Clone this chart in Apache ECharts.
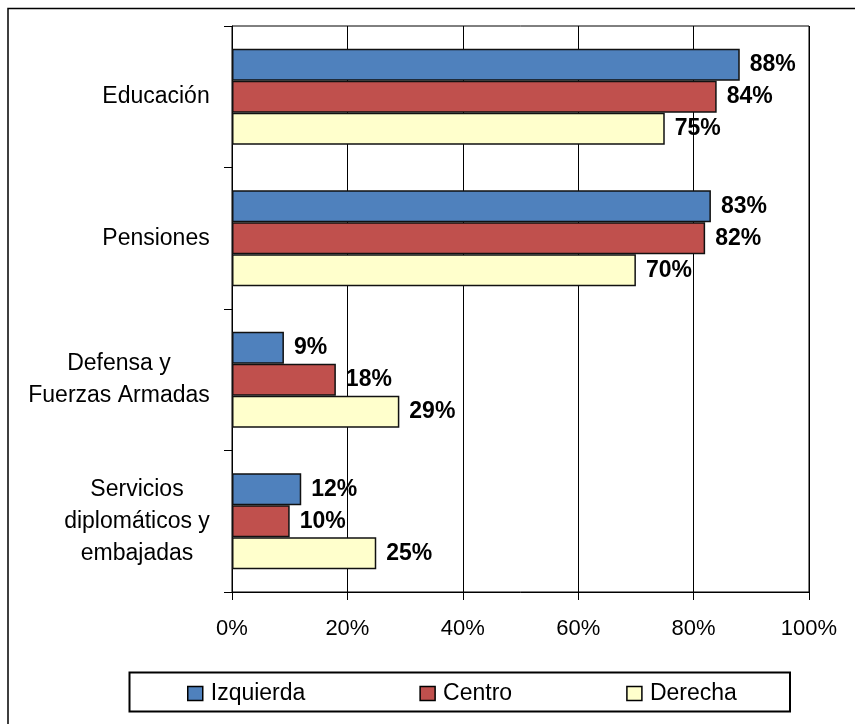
<!DOCTYPE html>
<html>
<head>
<meta charset="utf-8">
<script src="https://cdn.jsdelivr.net/npm/echarts@6/dist/echarts.min.js"></script>
<style>
html,body{margin:0;padding:0;background:#fff;}
#chart{width:855px;height:724px;}
</style>
</head>
<body>
<div id="chart"></div>
<script>
const categories = ['Educación', 'Pensiones', 'Defensa y\nFuerzas Armadas', 'Servicios\ndiplomáticos y\nembajadas'];
const izquierda = [88, 83, 9, 12];
const centro = [84, 82, 18, 10];
const derecha = [75, 70, 29, 25];
const xTicks = [0, 20, 40, 60, 80, 100];
const seriesNames = ['Izquierda', 'Centro', 'Derecha'];

const FONT = '"Liberation Sans", Arial, sans-serif';
const CAT_SIZE = 23;

// measure label blocks so each multi-line label is centred line-by-line but right-aligned as a block
const ctx = document.createElement('canvas').getContext('2d');
ctx.font = CAT_SIZE + 'px ' + FONT;
const rich = {};
categories.forEach((c, i) => {
  const w = Math.max(...c.split('\n').map(l => ctx.measureText(l).width));
  rich['c' + i] = {
    width: Math.ceil(w), align: 'center', fontFamily: FONT, fontSize: CAT_SIZE,
    lineHeight: 32, color: '#000'
  };
});

const chart = echarts.init(document.getElementById('chart'));

function barSeries(name, data, color) {
  return {
    name: name,
    type: 'bar',
    data: data,
    barWidth: 32,
    barGap: '0%',
    itemStyle: { color: color, borderColor: '#111', borderWidth: 1.5 },
    label: {
      show: true,
      position: 'right',
      distance: 10,
      formatter: p => p.value + '%',
      fontFamily: FONT,
      fontSize: 23,
      fontWeight: 'bold',
      color: '#000'
    }
  };
}

chart.setOption({
  animation: false,
  backgroundColor: '#fff',
  graphic: [
    { type: 'rect', shape: { x: 8, y: 8.5, width: 900, height: 800 },
      style: { fill: null, stroke: '#000', lineWidth: 1.5 }, z: -1 },
    { type: 'rect', shape: { x: 129.5, y: 672.5, width: 660.5, height: 39 },
      style: { fill: null, stroke: '#000', lineWidth: 2 }, z: 10 }
  ],
  grid: {
    left: 232, top: 26, right: 46, bottom: 132,
    show: true, borderColor: '#000', borderWidth: 1
  },
  legend: {
    data: seriesNames,
    left: 182,
    top: 677,
    itemWidth: 15,
    itemHeight: 14,
    itemGap: 114,
    icon: 'rect',
    itemStyle: { borderColor: '#000', borderWidth: 1.5 },
    textStyle: { fontFamily: FONT, fontSize: 23, color: '#000', padding: [0, 0, 0, 3] }
  },
  xAxis: {
    type: 'value',
    min: xTicks[0],
    max: xTicks[xTicks.length - 1],
    interval: 20,
    axisLine: { show: true, lineStyle: { color: '#000', width: 1 } },
    axisTick: { show: true, length: 8, lineStyle: { color: '#000' } },
    splitLine: { show: true, lineStyle: { color: '#000', width: 1 } },
    axisLabel: {
      formatter: v => v + '%',
      fontFamily: FONT, fontSize: 22, color: '#000', margin: 26
    }
  },
  yAxis: {
    type: 'category',
    data: categories,
    inverse: true,
    axisLine: { show: true, lineStyle: { color: '#000', width: 1 } },
    axisTick: { show: true, length: 8, lineStyle: { color: '#000' } },
    axisLabel: {
      margin: 22,
      align: 'right',
      formatter: (v, i) => v.split('\n').map(l => '{c' + i + '|' + l + '}').join('\n'),
      rich: rich
    }
  },
  series: [
    barSeries('Izquierda', izquierda, '#4F81BD'),
    barSeries('Centro', centro, '#C0504D'),
    barSeries('Derecha', derecha, '#FFFFCC')
  ]
});
</script>
</body>
</html>
